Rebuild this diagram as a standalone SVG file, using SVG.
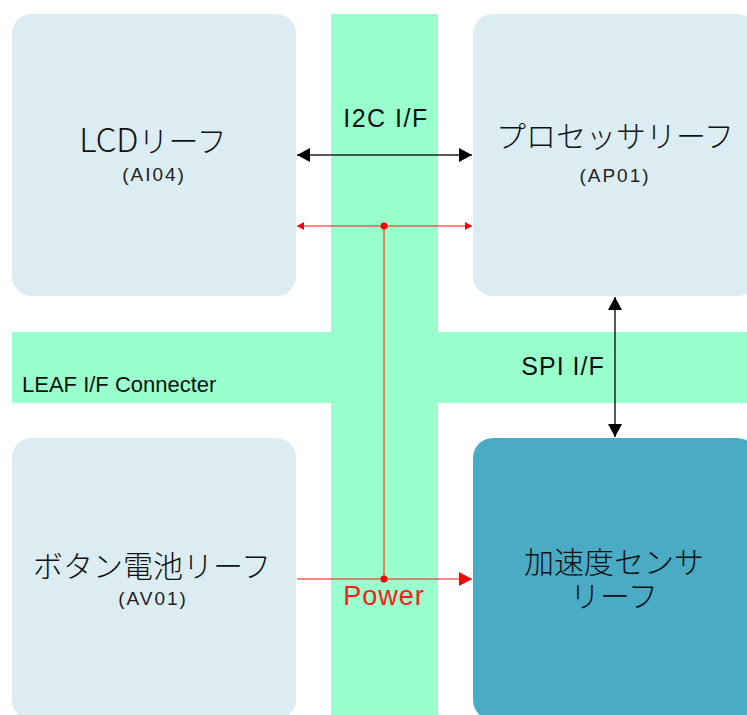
<svg xmlns="http://www.w3.org/2000/svg" width="747" height="715" viewBox="0 0 747 715">
<style>
.leaf{fill:#dbedf3}
.sensor{fill:#4aabc5}
.bar{fill:#99ffcc}
.jp{font-family:"Noto Sans CJK JP","Noto Sans",sans-serif;fill:#111;text-anchor:middle;font-weight:300;font-size:30px}
.code{font-family:"Liberation Sans",Arial,sans-serif;fill:#222;text-anchor:middle;font-size:19px;letter-spacing:2px}
.lbl{font-family:"Liberation Sans",Arial,sans-serif;fill:#111;font-size:25px}
.blk{stroke:#222;stroke-width:1.5;fill:none}
.red{stroke:#ff2a2a;stroke-opacity:0.75;stroke-width:1.5;fill:none}
</style>
<defs>
<marker id="bh" markerUnits="userSpaceOnUse" markerWidth="14" markerHeight="14" refX="13" refY="7" orient="auto-start-reverse" viewBox="0 0 14 14"><path d="M0,0 L13,7 L0,14 Z" fill="#000"/></marker>
<marker id="rh" markerUnits="userSpaceOnUse" markerWidth="14" markerHeight="14" refX="13" refY="7" orient="auto-start-reverse" viewBox="0 0 14 14"><path d="M0,0 L13,7 L0,14 Z" fill="#ff0000"/></marker>
<marker id="rs" markerUnits="userSpaceOnUse" markerWidth="8" markerHeight="8" refX="7" refY="4" orient="auto-start-reverse" viewBox="0 0 8 8"><path d="M0,0 L7,4 L0,8 Z" fill="#ff0000"/></marker>
</defs>
<rect width="747" height="715" fill="#fff"/>
<g id="connector-bus">
<rect class="bar" x="331" y="14" width="107" height="701"/>
<rect class="bar" x="12" y="332" width="735" height="71"/>
<text class="lbl" x="22" y="392" style="font-size:22px">LEAF I/F Connecter</text>
</g>
<g id="lcd">
<rect class="leaf" x="12" y="14" width="284" height="282" rx="20"/>
<text class="jp" x="153" y="152"><tspan style="font-size:33px">LCD</tspan>リーフ</text>
<text class="code" x="154" y="181">(AI04)</text>
</g>
<g id="processor">
<rect class="leaf" x="473" y="14" width="284" height="282" rx="20"/>
<text class="jp" x="615" y="147">プロセッサリーフ</text>
<text class="code" x="615" y="182">(AP01)</text>
</g>
<g id="battery">
<rect class="leaf" x="12" y="438" width="284" height="282" rx="20"/>
<text class="jp" x="152" y="577">ボタン電池リーフ</text>
<text class="code" x="153" y="605">(AV01)</text>
</g>
<g id="sensor">
<rect class="sensor" x="473" y="438" width="284" height="282" rx="20"/>
<text class="jp" x="614" y="573">加速度センサ</text>
<text class="jp" x="614" y="607">リーフ</text>
</g>
<g id="connectors">
<line class="blk" x1="297" y1="155" x2="472" y2="155" marker-start="url(#bh)" marker-end="url(#bh)"/>
<text class="lbl" x="386" y="127" text-anchor="middle" style="letter-spacing:1.5px">I2C I/F</text>
<line class="blk" x1="615" y1="297" x2="615" y2="437" marker-start="url(#bh)" marker-end="url(#bh)"/>
<text class="lbl" x="563" y="375" text-anchor="middle" style="letter-spacing:1px">SPI I/F</text>
<line class="red" x1="297" y1="226" x2="472" y2="226" marker-start="url(#rs)" marker-end="url(#rs)"/>
<line class="red" x1="384" y1="226" x2="384" y2="579"/>
<line class="red" x1="297" y1="579" x2="472" y2="579" marker-end="url(#rh)"/>
<circle cx="384" cy="226" r="3.5" fill="#ff0000"/>
<circle cx="384" cy="579" r="3.5" fill="#ff0000"/>
<text x="384" y="605" text-anchor="middle" style="font-family:'Liberation Sans',Arial,sans-serif;font-size:27px;letter-spacing:1px;fill:#ff1a1a">Power</text>
</g>
</svg>
